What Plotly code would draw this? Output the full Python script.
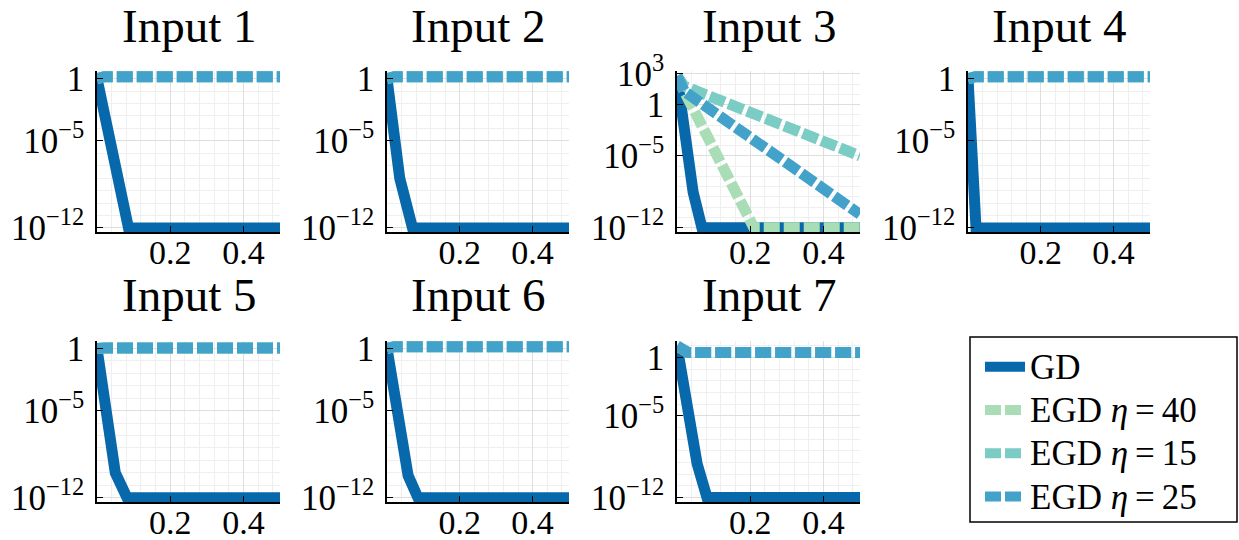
import plotly.graph_objects as go

W, H = 1239, 540

# ---------------- data ----------------
panel_titles = ["Input 1", "Input 2", "Input 3", "Input 4", "Input 5", "Input 6", "Input 7"]
series_names = ["GD", "EGD <i>η</i>\u2009=\u200940", "EGD <i>η</i>\u2009=\u200915", "EGD <i>η</i>\u2009=\u200925"]
series_colors = ["#0868ac", "#a8ddb5", "#7bccc4", "#43a2ca"]

x_ticks = [0.2, 0.4]
x_tick_labels = ["0.2", "0.4"]

# GD per panel
gd_x = [
    [0, 0.062, 0.086, 0.5],
    [0, 0.035, 0.070, 0.5],
    [0, 0.044, 0.068, 0.5],
    [0, 0.022, 0.5],
    [0, 0.050, 0.082, 0.5],
    [0, 0.058, 0.085, 0.5],
    [0, 0.055, 0.082, 0.5],
]
gd_y = [
    [1.0, 6e-10, 1e-12, 1e-12],
    [1.0, 1e-8, 1e-12, 1e-12],
    [600, 3e-9, 1e-12, 1e-12],
    [1.0, 1e-12, 1e-12],
    [1.0, 1e-10, 1e-12, 1e-12],
    [1.0, 6e-11, 1e-12, 1e-12],
    [10, 8e-10, 1e-12, 1e-12],
]
# EGD eta=40
egd40_x = [
    [0, 0.02, 0.5], [0, 0.02, 0.5], [0, 0.02, 0.21, 0.5], [0, 0.02, 0.5],
    [0, 0.02, 0.5], [0, 0.02, 0.5], [0, 0.03, 0.5],
]
egd40_y = [
    [1.0, 1.4, 1.4], [1.0, 1.4, 1.4], [630, 20, 1e-12, 1e-12], [1.0, 1.4, 1.4],
    [1.0, 1.1, 1.1], [1.0, 1.4, 1.4], [10, 2.7, 2.7],
]
# EGD eta=15
egd15_x = [
    [0, 0.02, 0.5], [0, 0.02, 0.5], [0, 0.02, 0.5], [0, 0.02, 0.5],
    [0, 0.02, 0.5], [0, 0.02, 0.5], [0, 0.03, 0.5],
]
egd15_y = [
    [1.0, 1.4, 1.4], [1.0, 1.4, 1.4], [630, 63, 1e-5], [1.0, 1.4, 1.4],
    [1.0, 1.1, 1.1], [1.0, 1.4, 1.4], [10, 2.7, 2.7],
]
# EGD eta=25
egd25_x = [
    [0, 0.02, 0.5], [0, 0.02, 0.5], [0, 0.02, 0.5], [0, 0.02, 0.5],
    [0, 0.02, 0.5], [0, 0.02, 0.5], [0, 0.03, 0.5],
]
egd25_y = [
    [1.0, 1.4, 1.4], [1.0, 1.4, 1.4], [630, 20, 2e-11], [1.0, 1.4, 1.4],
    [1.0, 1.1, 1.1], [1.0, 1.4, 1.4], [10, 2.7, 2.7],
]

# y ticks per panel
y_tick_vals = [
    [1e-12, 1e-5, 1], [1e-12, 1e-5, 1], [1e-12, 1e-5, 1, 1e3], [1e-12, 1e-5, 1],
    [1e-12, 1e-5, 1], [1e-12, 1e-5, 1], [1e-12, 1e-5, 1],
]
y_tick_text = [
    ["10<sup>−12</sup>", "10<sup>−5</sup>", "1"],
    ["10<sup>−12</sup>", "10<sup>−5</sup>", "1"],
    ["10<sup>−12</sup>", "10<sup>−5</sup>", "1", "10<sup>3</sup>"],
    ["10<sup>−12</sup>", "10<sup>−5</sup>", "1"],
    ["10<sup>−12</sup>", "10<sup>−5</sup>", "1"],
    ["10<sup>−12</sup>", "10<sup>−5</sup>", "1"],
    ["10<sup>−12</sup>", "10<sup>−5</sup>", "1"],
]
# log10 y ranges per panel
y_ranges = [
    [-12.33, 0.61], [-12.33, 0.61], [-12.42, 3.28], [-12.33, 0.61],
    [-12.35, 0.60], [-12.35, 0.60], [-12.38, 1.42],
]
x_range = [0, 0.5]

# ---------------- layout geometry (pixels) ----------------
panel_px_x = [(97, 280), (387, 569), (677, 860), (968, 1150),
              (97, 280), (387, 569), (677, 860)]
panel_px_y = [(71, 232)] * 4 + [(341, 502)] * 3
title_px_y = [26] * 4 + [295] * 3
legend_box_px = (970, 337, 1237, 522)

FONT = "Liberation Serif"

fig = go.Figure()

all_x = [gd_x, egd40_x, egd15_x, egd25_x]
all_y = [gd_y, egd40_y, egd15_y, egd25_y]

for p in range(7):
    ax = "" if p == 0 else str(p + 1)
    for s in range(4):
        fig.add_trace(go.Scatter(
            x=all_x[s][p], y=all_y[s][p], mode="lines",
            name='<span style="font-size:35px">' + series_names[s] + "</span>",
            legendgroup=series_names[s],
            showlegend=(p == 0),
            line=dict(color=series_colors[s], width=11,
                      dash="solid" if s == 0 else "16px,4px"),
            xaxis="x" + ax, yaxis="y" + ax,
            hoverinfo="skip",
        ))

bx0, by0, bx1, by1 = legend_box_px
layout = dict(
    width=W, height=H,
    margin=dict(l=0, r=0, t=0, b=0, pad=0, autoexpand=False),
    paper_bgcolor="white", plot_bgcolor="white",
    font=dict(family=FONT, color="black", size=34),
    showlegend=True,
    legend=dict(
        x=(bx0 + 10) / W, y=1 - (by0 + 3) / H, xanchor="left", yanchor="top",
        bgcolor="rgba(0,0,0,0)", borderwidth=0,
        font=dict(family=FONT, size=31, color="black"),
        tracegroupgap=0, itemwidth=40,
    ),
    shapes=[dict(type="rect", xref="paper", yref="paper",
                 x0=bx0 / W, x1=bx1 / W, y0=1 - by1 / H, y1=1 - by0 / H,
                 line=dict(color="black", width=1.5), fillcolor="rgba(0,0,0,0)",
                 layer="below")],
    annotations=[],
)

decades = [10.0 ** k for k in range(-14, 5)]

for p in range(7):
    ax = "" if p == 0 else str(p + 1)
    x0, x1 = panel_px_x[p]
    y0, y1 = panel_px_y[p]
    layout["xaxis" + ax] = dict(
        domain=[x0 / W, x1 / W], anchor="y" + ax, range=x_range,
        tickmode="array", tickvals=x_ticks, ticktext=x_tick_labels,
        showline=True, linecolor="black", linewidth=1.5,
        ticks="inside", ticklen=6, tickcolor="black",
        showgrid=True, gridcolor="#dedede", gridwidth=1,
        zeroline=False, ticklabelstandoff=-11,
        tickfont=dict(family=FONT, size=34),
        minor=dict(tick0=0, dtick=0.04, showgrid=True, gridcolor="#efefef", gridwidth=1),
    )
    layout["yaxis" + ax] = dict(
        domain=[1 - y1 / H, 1 - y0 / H], anchor="x" + ax, type="log",
        range=y_ranges[p],
        tickmode="array", tickvals=y_tick_vals[p], ticktext=y_tick_text[p],
        showline=True, linecolor="black", linewidth=1.5,
        ticks="inside", ticklen=6, tickcolor="black",
        showgrid=True, gridcolor="#dedede", gridwidth=1,
        zeroline=False, ticklabelstandoff=4,
        tickfont=dict(family=FONT, size=35),
        minor=dict(tickmode="array", tickvals=decades, showgrid=True,
                   gridcolor="#efefef", gridwidth=1),
    )
    layout["annotations"].append(dict(
        text=panel_titles[p], xref="paper", yref="paper",
        x=(x0 + x1) / 2 / W, y=1 - title_px_y[p] / H,
        xanchor="center", yanchor="middle", showarrow=False,
        font=dict(family=FONT, size=47, color="black"),
    ))

fig.update_layout(**layout)
fig.write_html("out.html", config={"displayModeBar": False},
               post_script="document.body.style.margin='0px';")
